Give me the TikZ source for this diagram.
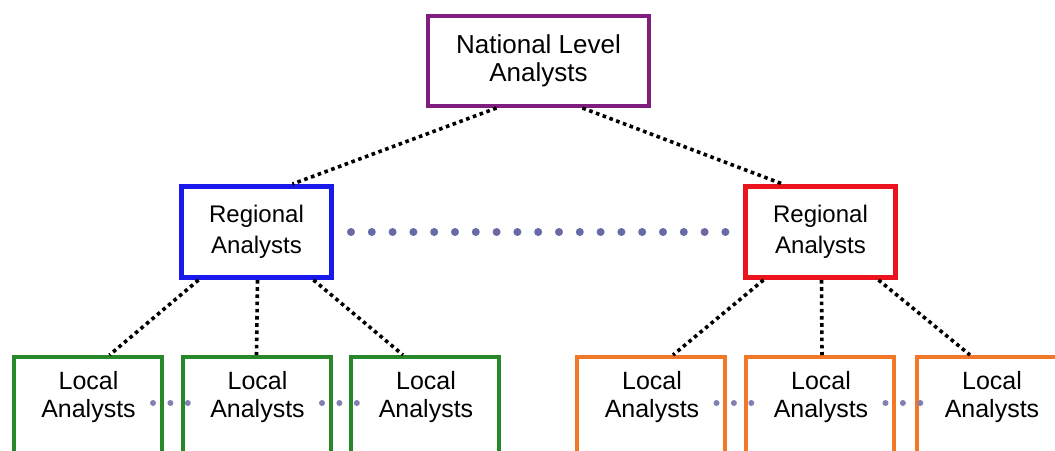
\documentclass[tikz,border=0pt]{standalone}
\usepackage{fontspec}
\setmainfont{Liberation Sans}
\usetikzlibrary{calc}
\definecolor{natpurple}{RGB}{128,30,128}
\definecolor{regblue}{RGB}{25,25,235}
\definecolor{regred}{RGB}{235,20,30}
\definecolor{locgreen}{RGB}{40,135,40}
\definecolor{locorange}{RGB}{240,120,40}
\definecolor{peercol}{RGB}{105,105,165}
\begin{document}
\begin{tikzpicture}[x=1pt,y=-1pt,
  box/.style={draw=#1, line width=4pt, rectangle, inner sep=0pt, align=center, text=black},
  natbox/.style={box=natpurple, minimum width=221pt, minimum height=90pt,
    font=\fontsize{26}{28}\selectfont},
  regbox/.style={box=#1, line width=5pt, minimum width=150pt, minimum height=91pt,
    font=\fontsize{24}{31}\selectfont},
  locbox/.style={box=#1, minimum width=148pt, minimum height=130pt, anchor=north},
  loctext/.style={align=center, text=black, font=\fontsize{25}{28}\selectfont, inner sep=0pt},
  link/.style={line width=3.6pt, dash pattern=on 3.6pt off 3.6pt, black},
  peer/.style={line width=8pt, line cap=round, dash pattern=on 0pt off 20.8pt, peercol},
  peersmall/.style={line width=6pt, line cap=round, dash pattern=on 0pt off 17.4pt, peercol!85}]
\useasboundingbox (0,0) rectangle (1055,450);
\clip (0,0) rectangle (1055,450);

% top level
\node[natbox] (nat) at (538.5,61) {National Level\\Analysts};

% regional level
\node[regbox=regblue] (rl) at (256.5,232) {Regional\\Analysts};
\node[regbox=regred]  (rr) at (820.5,232) {Regional\\Analysts};

% local level (boxes run past the lower edge)
\node[locbox=locgreen]  (l1) at (87.5,355)  {};
\node[locbox=locgreen]  (l2) at (256.5,355) {};
\node[locbox=locgreen]  (l3) at (425,355)   {};
\node[locbox=locorange] (l4) at (651,355)   {};
\node[locbox=locorange] (l5) at (820,355)   {};
\node[locbox=locorange] (l6) at (991,355)   {};
\foreach \n in {l1,l2,l3,l4,l5,l6}
  \node[loctext] (\n t) at ($(\n.north)+(1,42)$) {Local\\Analysts};

% reporting links
\draw[link] ($(nat.south)+(-42,0)$) -- ($(rl.north)+(36,0)$);
\draw[link] ($(nat.south)+(44,0)$)  -- ($(rr.north)+(-38,0)$);
\draw[link] ($(rl.south)+(-58,0)$)  -- ($(l1.north)+(22,0)$);
\draw[link] ($(rl.south)+(1,0)$)    -- ($(l2.north)+(0,0)$);
\draw[link] ($(rl.south)+(57,0)$)   -- ($(l3.north)+(-22,0)$);
\draw[link] ($(rr.south)+(-57,0)$)  -- ($(l4.north)+(22,0)$);
\draw[link] ($(rr.south)+(1,0)$)    -- ($(l5.north)+(2,0)$);
\draw[link] ($(rr.south)+(58,0)$)   -- ($(l6.north)+(-21,0)$);

% peer links
\draw[peer] ($(rl.east)+(17,0)$) -- ($(rr.west)+(-17,0)$);
\draw[peersmall] ($(l1.north east)+(-10.5,48)$) -- ($(l2.north west)+(8,48)$);
\draw[peersmall] ($(l2.north east)+(-10.5,48)$) -- ($(l3.north west)+(8,48)$);
\draw[peersmall] ($(l4.north east)+(-10.5,48)$) -- ($(l5.north west)+(8,48)$);
\draw[peersmall] ($(l5.north east)+(-10.5,48)$) -- ($(l6.north west)+(8,48)$);
\end{tikzpicture}
\end{document}
